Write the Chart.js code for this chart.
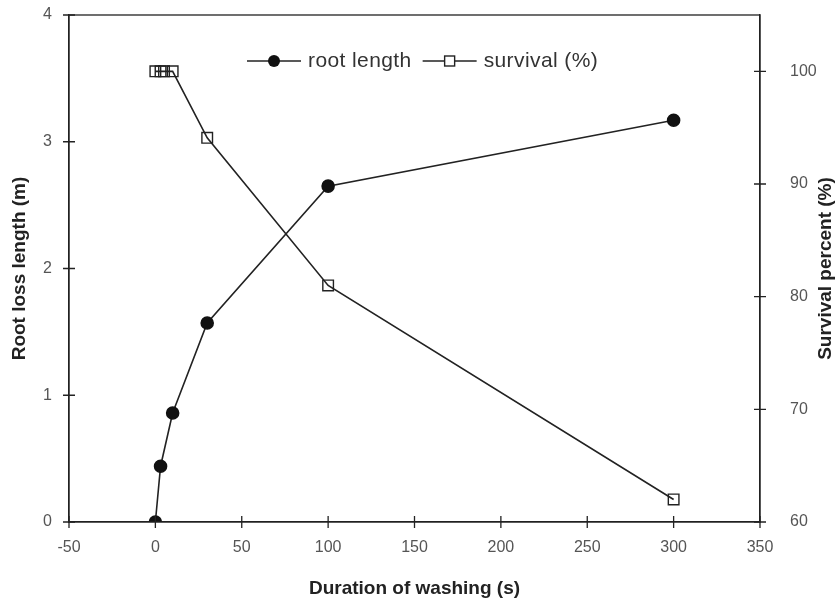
<!DOCTYPE html>
<html lang="en">
<head>
  <meta charset="UTF-8">
  <title>Root loss and survival vs washing time</title>
  <script src="https://cdn.jsdelivr.net/npm/chart.js@4"></script>
  <style>
    html, body { margin: 0; padding: 0; background: #fff; }
    #wrap { width: 838px; height: 610px; }
  </style>
</head>
<body>
  <div id="wrap"><canvas id="washChart" width="838" height="610"></canvas></div>

  <script>
    // washing duration (s) and measurements
    const rootTimes = [0, 3, 10, 30, 100, 300];
    const rootLength = [0, 0.44, 0.86, 1.57, 2.65, 3.17];
    const survivalTimes = [0, 3, 5, 10, 30, 100, 300];
    const survival = [100, 100, 100, 100, 94.1, 81, 62];

    const xTicks = [-50, 0, 50, 100, 150, 200, 250, 300, 350];
    const leftTicks = [0, 1, 2, 3, 4];
    const rightTicks = [60, 70, 80, 90, 100];
    const rightTitle = 'Survival percent (%)';

    const ink = '#222';
    const font = 'Liberation Sans, Arial, sans-serif';

    function toPoints(xs, ys) {
      return xs.map((x, i) => ({ x: x, y: ys[i] }));
    }

    function drawMarker(ctx, kind, x, y) {
      if (kind === 'circle') {
        ctx.fillStyle = '#111';
        ctx.beginPath(); ctx.arc(x, y, 6, 0, Math.PI * 2); ctx.fill();
      } else {
        ctx.fillStyle = '#fff';
        ctx.fillRect(x - 5, y - 5, 10, 10);
        ctx.strokeRect(x - 5, y - 5, 10, 10);
      }
    }

    // vertical axes: no extra room above/below for the end labels
    function flushEnds(s, width) {
      s.width = width;
      s.paddingTop = 0;
      s.paddingBottom = 0;
    }

    // box, crossing ticks, inline legend and right-hand title
    const frame = {
      id: 'frame',
      afterDraw(chart) {
        const { ctx, chartArea: a, scales } = chart;
        ctx.save();
        ctx.strokeStyle = ink;
        ctx.lineWidth = 1.3;
        ctx.strokeRect(a.left, a.top, a.right - a.left, a.bottom - a.top);
        ctx.beginPath();
        xTicks.forEach(v => {
          const px = scales.x.getPixelForValue(v);
          ctx.moveTo(px, a.bottom - 6); ctx.lineTo(px, a.bottom + 6);
        });
        leftTicks.forEach(v => {
          const py = scales.y.getPixelForValue(v);
          ctx.moveTo(a.left - 6, py); ctx.lineTo(a.left + 6, py);
        });
        rightTicks.forEach(v => {
          const py = scales.y2.getPixelForValue(v);
          ctx.moveTo(a.right - 6, py); ctx.lineTo(a.right + 6, py);
        });
        ctx.stroke();

        // legend: line with marker, then the label
        ctx.font = '21px ' + font;
        ctx.letterSpacing = '0.4px';
        ctx.textBaseline = 'middle';
        let lx = a.left + 178;
        const ly = a.top + 46;
        chart.data.datasets.forEach(ds => {
          ctx.strokeStyle = ink;
          ctx.lineWidth = 1.6;
          ctx.beginPath(); ctx.moveTo(lx, ly); ctx.lineTo(lx + 54, ly); ctx.stroke();
          ctx.lineWidth = 1.4;
          drawMarker(ctx, ds.pointStyle, lx + 27, ly);
          ctx.fillStyle = '#333';
          ctx.fillText(ds.label, lx + 61, ly);
          lx += 61 + ctx.measureText(ds.label).width + 11;
        });

        // title of the survival axis, reading bottom to top
        ctx.letterSpacing = '0px';
        ctx.translate(826, (a.top + a.bottom) / 2);
        ctx.rotate(-Math.PI / 2);
        ctx.font = 'bold 19px ' + font;
        ctx.fillStyle = ink;
        ctx.textAlign = 'center';
        ctx.fillText(rightTitle, 0, 0);
        ctx.restore();
      }
    };

    const tickFont = { family: font, size: 16 };
    const titleFont = { family: font, size: 19, weight: 'bold' };

    new Chart(document.getElementById('washChart').getContext('2d'), {
      type: 'scatter',
      data: {
        datasets: [{
          label: 'root length',
          data: toPoints(rootTimes, rootLength),
          yAxisID: 'y',
          showLine: true,
          borderColor: ink,
          borderWidth: 1.6,
          pointStyle: 'circle',
          pointRadius: 6,
          pointBackgroundColor: '#111',
          pointBorderColor: '#111'
        }, {
          label: 'survival (%)',
          data: toPoints(survivalTimes, survival),
          yAxisID: 'y2',
          showLine: true,
          borderColor: ink,
          borderWidth: 1.6,
          pointStyle: 'rect',
          pointRadius: 7.5,
          pointBorderWidth: 1.4,
          pointBackgroundColor: 'rgba(255,255,255,0)',
          pointBorderColor: ink
        }]
      },
      options: {
        responsive: false,
        animation: false,
        layout: { padding: { top: 15, left: 4, right: 0, bottom: 6 } },
        plugins: {
          tooltip: { enabled: false },
          legend: { display: false }
        },
        scales: {
          x: {
            type: 'linear',
            min: -50, max: 350,
            afterBuildTicks: s => { s.ticks = xTicks.map(v => ({ value: v })); },
            afterFit: s => { s.height = 82; },
            grid: { display: false },
            border: { display: true, color: ink, width: 1.3 },
            ticks: { color: '#555', font: tickFont, padding: 8 },
            title: { display: true, text: 'Duration of washing (s)', color: ink, font: titleFont, padding: { top: 15 } }
          },
          y: {
            position: 'left',
            min: 0, max: 4,
            afterBuildTicks: s => { s.ticks = leftTicks.map(v => ({ value: v })); },
            afterFit: s => flushEnds(s, 65),
            grid: { display: false },
            border: { display: true, color: ink, width: 1.3 },
            ticks: { color: '#555', font: tickFont, padding: 9 },
            title: { display: true, text: 'Root loss length (m)', color: ink, font: titleFont, padding: { bottom: 2 } }
          },
          y2: {
            position: 'right',
            min: 60, max: 105,
            afterBuildTicks: s => { s.ticks = rightTicks.map(v => ({ value: v })); },
            afterFit: s => flushEnds(s, 78),
            grid: { display: false },
            border: { display: true, color: ink, width: 1.3 },
            ticks: { color: '#555', font: tickFont, padding: 22 },
            title: { display: false }
          }
        }
      },
      plugins: [frame]
    });
  </script>
</body>
</html>
